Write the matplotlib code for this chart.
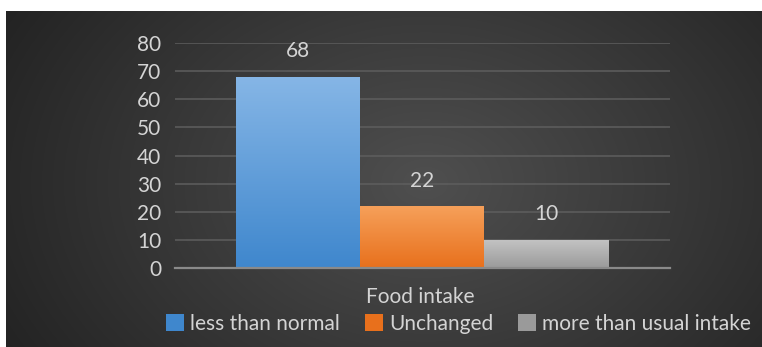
import numpy as np
import matplotlib
matplotlib.use("Agg")
import matplotlib.pyplot as plt
from matplotlib.colors import LinearSegmentedColormap
from matplotlib.patches import Rectangle

categories = ["less than normal", "Unchanged", "more than usual intake"]
values = [68, 22, 10]
y_ticks = [0, 10, 20, 30, 40, 50, 60, 70, 80]
x_title = "Food intake"

# top/bottom colours of each bar's vertical gradient
bar_colors = [("#86b6e6", "#3f87cd"), ("#f6a05a", "#e8701c"), ("#c4c4c4", "#9a9a9a")]

W, H = 762, 347
fig = plt.figure(figsize=(W / 100, H / 100), dpi=100)
fig.patch.set_facecolor("#262626")

# dark radial backdrop of the chart panel
bg = fig.add_axes([6 / W, -0.02, 1.02 - 6 / W, 1.02 - 11 / H])
bg.set_axis_off()
yy, xx = np.mgrid[0:300, 0:700]
cx, cy = 380, 150
r = np.sqrt(((xx - cx) / 430) ** 2 + ((yy - cy) / 300) ** 2)
shade = np.clip(0.31 - 0.17 * r, 0.13, 0.31)
bg.imshow(np.dstack([shade, shade, shade]), aspect="auto", extent=[0, 1, 0, 1])
bg.set_xlim(0, 1)
bg.set_ylim(0, 1)

# white margin along the top and left edges
fig.patches.append(Rectangle((0, 1 - 11 / H), 1, 11 / H, transform=fig.transFigure,
                             facecolor="white", edgecolor="none", zorder=5))
fig.patches.append(Rectangle((0, 0), 6 / W, 1, transform=fig.transFigure,
                             facecolor="white", edgecolor="none", zorder=5))

text_col = "#d4d4d4"
font = ["Lato", "DejaVu Sans"]
fs = 15

# plotting area: y=0 at px 268, y=80 at px 43, x from 175 to 670
ax = fig.add_axes([175 / W, (H - 268) / H, 495 / W, 225 / H])
ax.set_facecolor("none")
ax.set_ylim(0, 80)
ax.set_xlim(0, 4)
ax.set_yticks(y_ticks)
ax.set_yticklabels([str(t) for t in y_ticks], color=text_col, fontsize=fs, family=font)
ax.tick_params(axis="y", length=0, pad=10)
ax.tick_params(axis="x", length=0, labelbottom=False)
for s in ["top", "right", "left"]:
    ax.spines[s].set_visible(False)
ax.spines["bottom"].set_color("#8a8a8a")
ax.spines["bottom"].set_linewidth(1.6)
ax.yaxis.grid(True, color="#5e5e5e", linewidth=1.1)
ax.set_axisbelow(True)

bar_w = 124 / 495 * 4
start = 61 / 495 * 4
for i, (v, (ctop, cbot)) in enumerate(zip(values, bar_colors)):
    x0 = start + i * bar_w
    bars = ax.bar(x0, v, width=bar_w, align="edge", color="none", label=categories[i], zorder=2)
    cmap = LinearSegmentedColormap.from_list("g%d" % i, [cbot, ctop])
    grad = np.linspace(0, 1, 256).reshape(-1, 1)
    im = ax.imshow(grad, cmap=cmap, origin="lower", aspect="auto",
                   extent=[x0, x0 + bar_w, 0, v], zorder=2)
    im.set_clip_path(bars[0])
    ax.text(x0 + bar_w / 2, v + 5.5, str(v), ha="center", va="bottom",
            color=text_col, fontsize=fs, family=font)
ax.set_xlim(0, 4)
ax.set_ylim(0, 80)

fig.text(420 / W, 1 - 297 / H, x_title, ha="center", va="center",
         color=text_col, fontsize=fs, family=font)

handles = [Rectangle((0, 0), 1, 1, facecolor=c[1], edgecolor="none") for c in bar_colors]
leg = fig.legend(handles, categories, loc="center left", bbox_to_anchor=(166 / W, 1 - 324 / H),
                 ncol=3, frameon=False, borderpad=0, borderaxespad=0,
                 handlelength=0.85, handleheight=0.85,
                 handletextpad=0.3, columnspacing=1.2,
                 prop={"family": font, "size": fs})
for t in leg.get_texts():
    t.set_color(text_col)

fig.savefig("out.png", dpi=100, facecolor=fig.get_facecolor())
